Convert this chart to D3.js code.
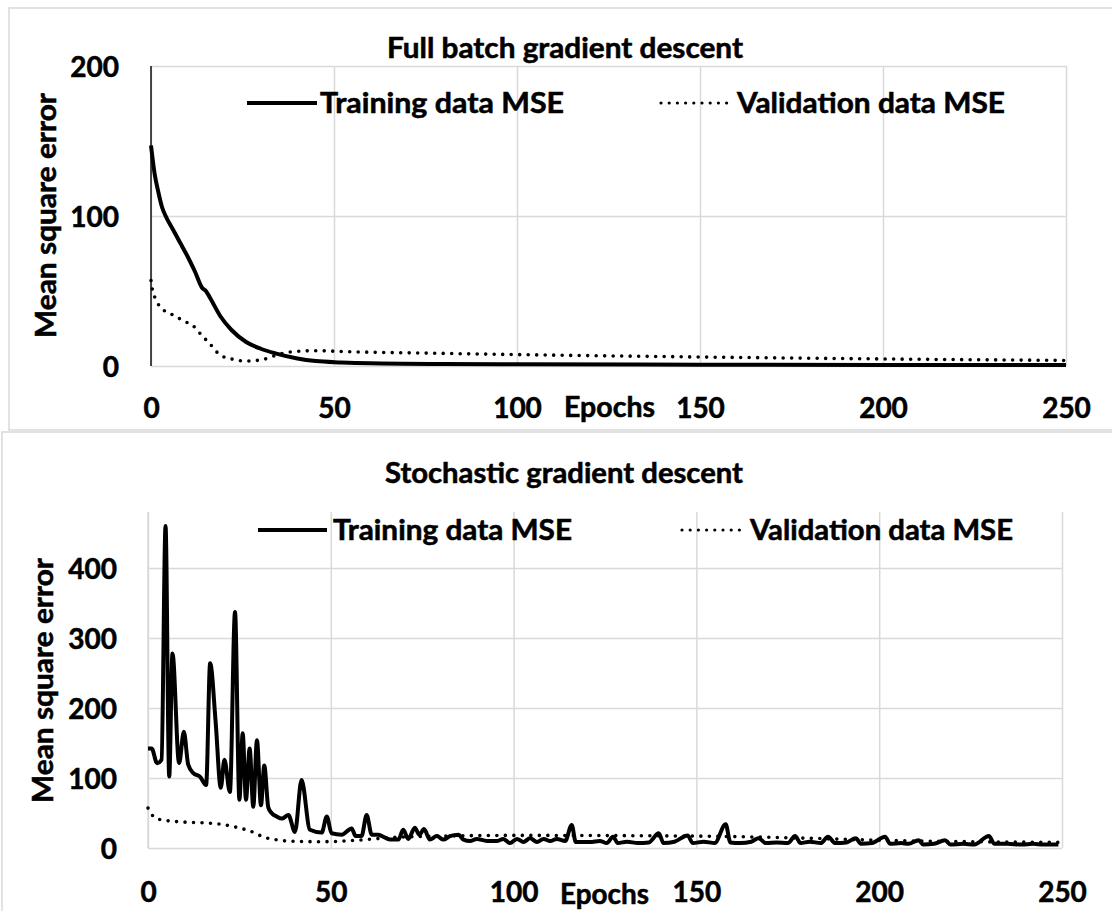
<!DOCTYPE html>
<html><head><meta charset="utf-8">
<script src="https://cdn.jsdelivr.net/npm/d3@7"></script>
<style>
html,body{margin:0;padding:0;background:#fff;}
svg{display:block;font-family:Lato,"Open Sans",sans-serif;font-weight:700;}
svg text{stroke:#000;stroke-width:0.55px;paint-order:stroke;}
</style></head><body>
<svg id="c" width="1112" height="911"></svg>
<script>
// ---------- DATA ----------
const xTicks = [0, 50, 100, 150, 200, 250];
const fullYTicks = [0, 100, 200];
const sgdYTicks = [0, 100, 200, 300, 400];

const fullTitle = "Full batch gradient descent";
const sgdTitle = "Stochastic gradient descent";
const seriesNames = ["Training data MSE", "Validation data MSE"];
const yTitle = "Mean square error";
const xTitle = "Epochs";

// Full batch gradient descent
const fullTrainEpochs = [0, 1, 2, 3, 4, 6, 8, 10, 12, 14, 15, 16, 19, 22, 26, 30, 34, 40, 45, 52, 60, 80, 100, 150, 200, 250];
const fullTrainMSE    = [147, 128, 116, 106, 100, 91, 82, 73, 63, 52, 50, 46, 33, 24, 16, 11.5, 8.4, 5, 3.3, 2.4, 1.8, 1.3, 1.1, 0.9, 0.7, 0.6];
const fullValEpochs = [0, 0.3, 1, 2.5, 6, 9, 11.6, 13.8, 16, 18.9, 22.5, 26, 30.7, 34.3, 38, 45, 54, 75, 100, 150, 200, 250];
const fullValMSE    = [57, 52, 46, 39.5, 34, 30, 26.6, 20.6, 15, 7.3, 4.4, 3.3, 4.4, 7.3, 9.3, 10.2, 9.5, 8.6, 7.6, 6, 4.7, 3.7];

// Stochastic gradient descent
const sgdTrainEpochs = [0, 1, 2.5, 3.7, 4.8, 5.8, 6.7, 8.5, 9.8, 11, 12.4, 14.2, 15.9, 17, 18.5, 19.9, 20.9, 22.4, 23.8, 25, 25.9, 26.8, 27.8, 28.8, 29.8, 30.9, 31.8, 32.9, 33.8, 35.2, 36.6, 38.4, 40.2, 42, 44.3, 47.5, 48.9, 50.2, 53, 55.7, 56.8, 58.4, 59.8, 61.2, 63, 64, 66.2, 68.5, 69.8, 71.2, 73, 74.2, 75.5, 77.1, 79, 80.8, 82.6, 84.9, 86.3, 88.1, 89.9, 92.7, 95.4, 97.2, 99, 100.9, 102.7, 104.5, 106.4, 108.2, 110, 111.8, 114.1, 115.9, 117, 120.9, 123.6, 125.5, 127.2, 128.5, 131, 134, 137, 139.7, 141, 144, 147.6, 149, 152, 155, 158, 159.3, 162, 165, 167, 169, 172, 175, 177, 178.5, 181, 184, 186, 188, 191, 193.6, 195, 198, 201.6, 203, 206, 208, 210.8, 212, 215, 218, 219.5, 223, 226, 230, 231.5, 235, 239, 242, 245, 249];
const sgdTrainMSE    = [142, 142, 121, 126, 460, 102, 278, 121, 166, 119, 107, 102, 90, 264, 180, 86, 126, 80, 337, 69, 164, 69, 142, 59, 154, 61, 118, 58, 50, 45, 42, 47, 23, 97, 26, 22, 45, 21, 19, 28, 17, 17, 47, 19, 19, 17, 12, 12, 26, 13, 29, 19, 27, 12, 17, 12, 17, 19, 12, 10, 13, 10, 10, 13, 7, 13, 8.5, 14, 8.5, 13, 10, 13, 10, 33, 8.5, 8.5, 10, 7, 16, 7, 9, 7, 8, 21, 7, 9, 18, 7, 9, 7, 34, 8, 7, 9, 14, 7, 8, 7, 17, 7, 9, 7, 16, 7, 8, 14, 6, 7, 16, 6, 7, 6, 11, 5, 6, 11, 5, 6, 5, 17, 6, 6, 5, 6, 5, 5];
const sgdValEpochs = [0, 1, 2, 4, 10, 18, 23, 28, 32, 36, 40, 47, 52, 57, 67, 80, 100, 150, 180, 200, 225, 250];
const sgdValMSE    = [57, 48, 43, 40, 37, 35, 31, 24, 15, 11, 9.5, 9, 9.5, 11, 15, 17, 18, 17, 14, 11, 9, 8];

// ---------- DRAWING ----------
const svg = d3.select("#c");
const GRID = "#d9d9d9";
const FS = 28;

function fit(sel, w) {
  sel.attr("textLength", w).attr("lengthAdjust", "spacingAndGlyphs");
  return sel;
}

function drawChart(cfg) {
  const g = svg.append("g");
  // outer border
  g.append("rect").attr("x", cfg.box[0]).attr("y", cfg.box[1])
    .attr("width", cfg.box[2]).attr("height", cfg.box[3])
    .attr("fill", "none").attr("stroke", GRID).attr("stroke-width", 1.5);

  const x = d3.scaleLinear().domain([0, 250]).range([cfg.x0, cfg.x1]);
  const y = d3.scaleLinear().domain([0, cfg.yMax]).range([cfg.y0, cfg.y1]);

  // horizontal gridlines + y labels
  const ya = g.append("g").attr("transform", `translate(${cfg.x0},0)`)
    .call(d3.axisLeft(y).tickValues(cfg.yTicks).tickSize(-(cfg.x1 - cfg.x0)).tickPadding(cfg.yPad).tickFormat(d3.format("d")));
  ya.select(".domain").remove();
  ya.selectAll("line").attr("stroke", GRID).attr("stroke-width", 1.5);
  ya.selectAll("text").attr("font-size", FS).attr("font-family", "Lato").attr("font-weight", 700)
    .attr("fill", "#000").attr("dy", "0.36em");

  // vertical gridlines + x labels
  const xa = g.append("g").attr("transform", `translate(0,${cfg.y0})`)
    .call(d3.axisBottom(x).tickValues(xTicks).tickSize(-(cfg.y0 - cfg.y1)).tickFormat(d3.format("d")));
  xa.select(".domain").remove();
  xa.selectAll("line").attr("stroke", GRID).attr("stroke-width", 1.5);
  xa.selectAll("text").attr("font-size", FS).attr("font-family", "Lato").attr("font-weight", 700)
    .attr("fill", "#000").attr("y", cfg.xLabBase).attr("dy", null);

  // left axis line
  g.append("line").attr("x1", cfg.x0).attr("x2", cfg.x0).attr("y1", cfg.y1).attr("y2", cfg.y0)
    .attr("stroke", cfg.axisColor).attr("stroke-width", cfg.axisWidth);

  // series
  const line = d3.line().x(d => x(d[0])).y(d => y(d[1])).curve(d3.curveMonotoneX);
  const valPts = cfg.valE.map((e, i) => [e, cfg.valV[i]]);
  const trPts = cfg.trE.map((e, i) => [e, cfg.trV[i]]);
  g.append("path").datum(valPts).attr("d", line).attr("fill", "none").attr("stroke", "#000")
    .attr("stroke-width", 3.6).attr("stroke-linecap", "round").attr("stroke-dasharray", "0 8.5");
  g.append("path").datum(trPts).attr("d", line).attr("fill", "none").attr("stroke", "#000")
    .attr("stroke-width", 4).attr("stroke-linejoin", "round");

  // title
  fit(g.append("text").attr("x", cfg.title[0]).attr("y", cfg.title[1]).attr("font-size", FS).text(cfg.titleText), cfg.title[2]);

  // legend
  const L = cfg.legend;
  g.append("line").attr("x1", L.tr[0]).attr("x2", L.tr[1]).attr("y1", L.y).attr("y2", L.y)
    .attr("stroke", "#000").attr("stroke-width", 4);
  fit(g.append("text").attr("x", L.trText[0]).attr("y", L.base).attr("font-size", FS).text(seriesNames[0]), L.trText[1]);
  g.append("line").attr("x1", L.va[0]).attr("x2", L.va[1]).attr("y1", L.y).attr("y2", L.y)
    .attr("stroke", "#000").attr("stroke-width", 3.2).attr("stroke-linecap", "round").attr("stroke-dasharray", "0 8.2");
  fit(g.append("text").attr("x", L.vaText[0]).attr("y", L.base).attr("font-size", FS).text(seriesNames[1]), L.vaText[1]);

  // axis titles
  fit(g.append("text").attr("transform", `translate(${cfg.yT[0]},${cfg.yT[1]}) rotate(-90)`)
    .attr("text-anchor", "middle").attr("font-size", FS).text(yTitle), cfg.yT[2]);
  fit(g.append("text").attr("x", cfg.xT[0]).attr("y", cfg.xT[1]).attr("font-size", FS).text(xTitle), cfg.xT[2]);
}

drawChart({
  box: [9, 8, 1120, 422],
  x0: 151, x1: 1066, y0: 366, y1: 66, yMax: 200, yTicks: fullYTicks, yPad: 32, xLabBase: 52,
  axisColor: "#000", axisWidth: 1.4,
  trE: fullTrainEpochs, trV: fullTrainMSE, valE: fullValEpochs, valV: fullValMSE,
  titleText: fullTitle, title: [387, 58, 356],
  legend: { y: 103, base: 113, tr: [247, 317], trText: [320, 244], va: [661, 729], vaText: [737, 268] },
  yT: [56, 215.5, 245], xT: [564, 417, 91]
});

drawChart({
  box: [2, 432, 1120, 500],
  x0: 148, x1: 1062, y0: 848, y1: 512, yMax: 480, yTicks: sgdYTicks, yPad: 31, xLabBase: 54,
  axisColor: GRID, axisWidth: 1.5,
  trE: sgdTrainEpochs, trV: sgdTrainMSE, valE: sgdValEpochs, valV: sgdValMSE,
  titleText: sgdTitle, title: [385, 483, 358],
  legend: { y: 530, base: 540, tr: [258, 327], trText: [333, 239], va: [682, 744], vaText: [750, 263] },
  yT: [53, 680.5, 245], xT: [560, 904, 89]
});
</script>
</body></html>
